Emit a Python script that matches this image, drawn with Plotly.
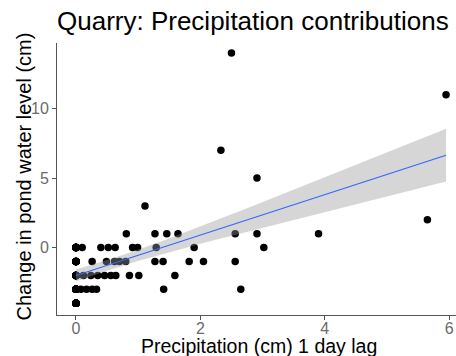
import numpy as np
import plotly.graph_objects as go

# Data: precipitation (cm, 1-day lag) vs change in pond level (cm)
# Visible points
precip_visible = [
    2.50,
    5.95,
    2.33,
    2.91,
    1.11,
    5.65,
    0.81, 1.27, 1.46, 1.64, 2.56, 2.91, 3.90,
    0.0, 0.10, 0.40, 0.52, 0.63, 0.91, 0.99, 1.29, 1.90, 3.02,
    0.0, 0.26, 0.49, 0.62, 0.70, 0.80, 1.27, 1.40, 1.82, 2.05, 2.56,
    0.0, 0.12, 0.24, 0.35, 0.46, 0.56, 0.64, 0.86, 1.01, 1.59,
    0.0, 0.08, 0.17, 0.26, 0.33, 1.41, 2.65,
    0.0,
]
change_visible = [
    14,
    11,
    7,
    5,
    3,
    2,
    1, 1, 1, 1, 1, 1, 1,
    0, 0, 0, 0, 0, 0, 0, 0, 0, 0,
    -1, -1, -1, -1, -1, -1, -1, -1, -1, -1, -1,
    -2, -2, -2, -2, -2, -2, -2, -2, -2, -2,
    -3, -3, -3, -3, -3, -3, -3,
    -4,
]
# Dry days (0 cm precipitation) stacked on top of one another at x = 0
# (hidden by overlap; estimated from the narrow confidence band near x = 0)
precip_dry = [0.0] * 60
change_dry = [
    -4, -4, -4, -4, -4, -4, -4, -4, -4, -4, -4, -4,
    -3, -3, -3, -3, -3, -3, -3, -3, -3, -3,
    -2, -2, -2, -2, -2, -2, -2, -2, -2, -2, -2, -2, -2, -2, -2, -2,
    -1, -1, -1, -1, -1, -1, -1, -1, -1, -1,
    0, 0, 0, 0, 0, 0, 0, 0, 0, 0, 0, 0,
]
precip = precip_visible + precip_dry
level_change = change_visible + change_dry

x_ticks = [0, 2, 4, 6]
y_ticks = [0, 5, 10]

title_text = "Quarry: Precipitation contributions"
x_title = "Precipitation (cm) 1 day lag"
y_title = "Change in pond water level (cm)"

# Linear fit with 95% confidence band (like geom_smooth(method="lm"))
x = np.array(precip, dtype=float)
y = np.array(level_change, dtype=float)
n = len(x)
slope, intercept = np.polyfit(x, y, 1)
resid = y - (intercept + slope * x)
s = np.sqrt(np.sum(resid ** 2) / (n - 2))
xbar = x.mean()
sxx = np.sum((x - xbar) ** 2)
t_crit = 1.98  # t(0.975, df = n-2 ~ 110)
xs = np.linspace(x.min(), x.max(), 80)
fit = intercept + slope * xs
se = s * np.sqrt(1.0 / n + (xs - xbar) ** 2 / sxx)
upper = fit + t_crit * se
lower = fit - t_crit * se

fig = go.Figure()
fig.add_trace(go.Scatter(
    x=precip, y=level_change, mode="markers",
    marker=dict(color="black", size=7.5, line=dict(width=0)),
    showlegend=False, hoverinfo="skip",
))
fig.add_trace(go.Scatter(
    x=np.concatenate([xs, xs[::-1]]), y=np.concatenate([upper, lower[::-1]]),
    fill="toself", fillcolor="rgba(153,153,153,0.4)", line=dict(width=0),
    mode="lines", showlegend=False, hoverinfo="skip",
))
fig.add_trace(go.Scatter(
    x=xs, y=fit, mode="lines", line=dict(color="#3366FF", width=1.2),
    showlegend=False, hoverinfo="skip",
))

font_family = "Liberation Sans, Arial, sans-serif"
axis_common = dict(
    showgrid=False, zeroline=False, showline=True, linecolor="#555555", linewidth=1,
    ticks="outside", ticklen=4, tickcolor="#555555", tickwidth=1,
    tickfont=dict(family=font_family, size=16, color="#6b6b6b"),
)
fig.update_layout(
    width=456, height=356,
    margin=dict(l=57, r=0, t=43, b=41),
    paper_bgcolor="white", plot_bgcolor="white",
    title=dict(text=title_text, x=57 / 456, xanchor="left", xref="container",
               y=1 - 21 / 356, yanchor="middle", yref="container",
               font=dict(family=font_family, size=26, color="black")),
    xaxis=dict(range=[-0.305, 6.11], tickvals=x_ticks, ticklabelstandoff=-5, **axis_common),
    yaxis=dict(range=[-4.85, 14.72], tickvals=y_ticks, **axis_common),
    annotations=[
        dict(text=x_title, xref="paper", yref="paper", x=0.5075, y=-0.114,
             xanchor="center", yanchor="middle", showarrow=False,
             font=dict(family=font_family, size=19.5, color="black")),
        dict(text=y_title, xref="paper", yref="paper", x=-0.0815, y=0.511,
             xanchor="center", yanchor="middle", showarrow=False, textangle=-90,
             font=dict(family=font_family, size=20, color="black")),
    ],
)
fig.write_html(
    "out.html",
    config={"displayModeBar": False},
    post_script="document.body.style.margin='0';document.body.style.overflow='hidden';",
)
